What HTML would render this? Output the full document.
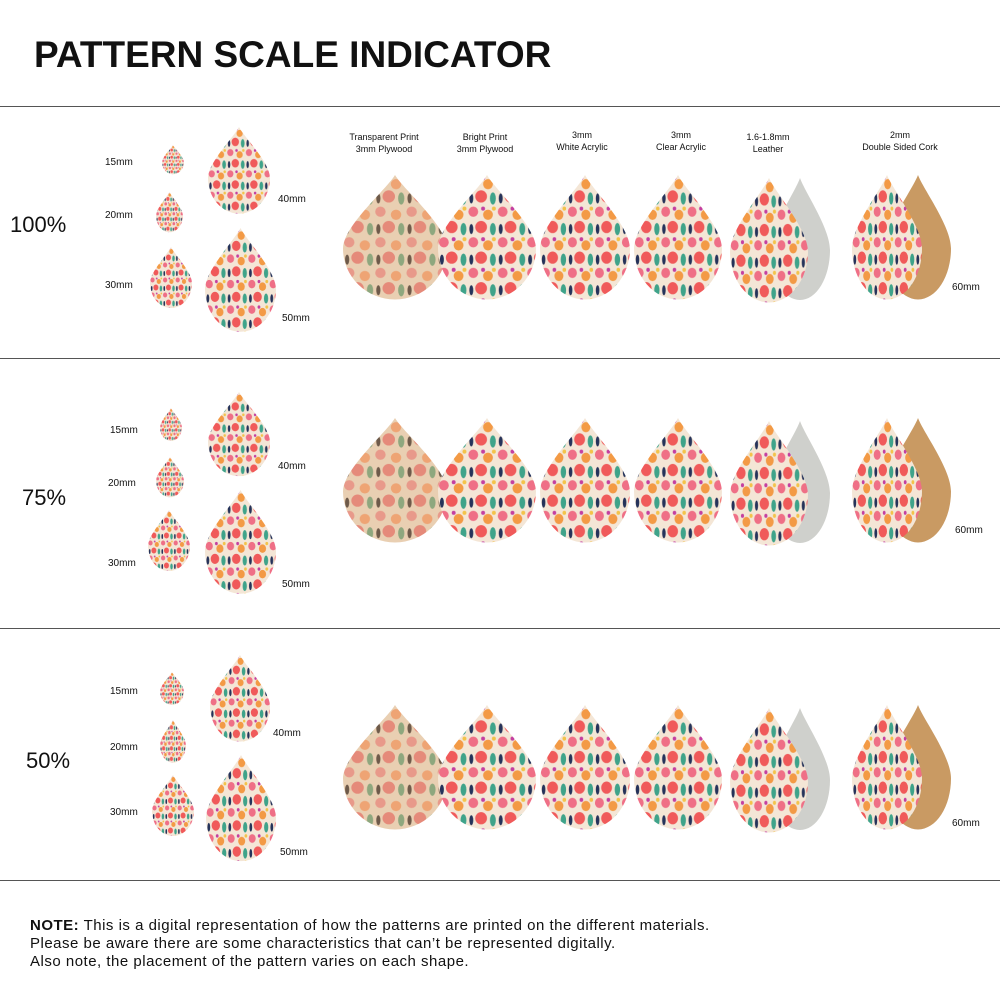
<!DOCTYPE html>
<html><head><meta charset="utf-8"><style>
html,body{margin:0;padding:0;background:#fff;width:1000px;height:1000px;overflow:hidden}
svg{display:block}
text{font-family:"Liberation Sans",sans-serif;fill:#111}
</style></head><body>
<svg width="1000" height="1000" viewBox="0 0 1000 1000">
<defs>
<pattern id="fl" width="30" height="30" patternUnits="userSpaceOnUse">
<rect width="30" height="30" fill="#f4e6d6"/>
<circle cx="6" cy="6" r="5" fill="#ef6f86"/>
<circle cx="21" cy="9" r="5" fill="#f39a45"/>
<circle cx="14" cy="21" r="6" fill="#f05a5a"/>
<ellipse cx="26" cy="23" rx="3" ry="6" fill="#3fa38a"/>
<ellipse cx="4" cy="23" rx="2" ry="5" fill="#26335a"/>
<circle cx="16" cy="3" r="2" fill="#c43fa0"/>
<circle cx="27" cy="3" r="2" fill="#f3c34a"/>
</pattern>
<pattern id="fl2" width="30" height="30" patternUnits="userSpaceOnUse">
<rect width="30" height="30" fill="#e9cfb2"/>
<circle cx="6" cy="6" r="5" fill="#e8998a"/>
<circle cx="21" cy="9" r="5" fill="#eea474"/>
<circle cx="14" cy="21" r="6" fill="#e58a7a"/>
<ellipse cx="26" cy="23" rx="3" ry="6" fill="#8ea77e"/>
<ellipse cx="4" cy="23" rx="2" ry="5" fill="#6e5a4a"/>
</pattern>
<path id="td" d="M50 0 C58 14 100 50 100 72 A50 50 0 0 1 0 72 C0 50 42 14 50 0Z"/>
</defs>
<text x="34" y="67" font-size="37" font-weight="bold">PATTERN SCALE INDICATOR</text>
<g stroke="#555" stroke-width="1"><line x1="0" y1="106.5" x2="1000" y2="106.5"/><line x1="0" y1="358.5" x2="1000" y2="358.5"/><line x1="0" y1="628.5" x2="1000" y2="628.5"/><line x1="0" y1="880.5" x2="1000" y2="880.5"/></g>
<g font-size="9" text-anchor="middle">
<text x="384" y="140">Transparent Print</text><text x="384" y="152">3mm Plywood</text>
<text x="485" y="140">Bright Print</text><text x="485" y="152">3mm Plywood</text>
<text x="582" y="138">3mm</text><text x="582" y="150">White Acrylic</text>
<text x="681" y="138">3mm</text><text x="681" y="150">Clear Acrylic</text>
<text x="768" y="140">1.6-1.8mm</text><text x="768" y="152">Leather</text>
<text x="900" y="138">2mm</text><text x="900" y="150">Double Sided Cork</text>
</g>
<g font-size="22"><text x="10" y="232">100%</text><text x="22" y="505">75%</text><text x="26" y="768">50%</text></g>
<g font-size="10">
<text x="105" y="165">15mm</text><text x="105" y="218">20mm</text><text x="105" y="288">30mm</text><text x="278" y="202">40mm</text><text x="282" y="321">50mm</text><text x="952" y="290">60mm</text>
<text x="110" y="433">15mm</text><text x="108" y="486">20mm</text><text x="108" y="566">30mm</text><text x="278" y="469">40mm</text><text x="282" y="587">50mm</text><text x="955" y="533">60mm</text>
<text x="110" y="694">15mm</text><text x="110" y="750">20mm</text><text x="110" y="815">30mm</text><text x="273" y="736">40mm</text><text x="280" y="855">50mm</text><text x="952" y="826">60mm</text>
</g>
<!-- small drops row 1 -->
<use href="#td" fill="url(#fl)" transform="translate(162,145) scale(0.22,0.24)"/>
<use href="#td" fill="url(#fl)" transform="translate(156,192) scale(0.27,0.33)"/>
<use href="#td" fill="url(#fl)" transform="translate(150,247) scale(0.42,0.5)"/>
<use href="#td" fill="url(#fl)" transform="translate(208,127) scale(0.62,0.71)"/>
<use href="#td" fill="url(#fl)" transform="translate(205,228) scale(0.71,0.85)"/>
<!-- row 2 -->
<use href="#td" fill="url(#fl)" transform="translate(160,408) scale(0.22,0.27)"/>
<use href="#td" fill="url(#fl)" transform="translate(156,457) scale(0.28,0.33)"/>
<use href="#td" fill="url(#fl)" transform="translate(148,510) scale(0.42,0.5)"/>
<use href="#td" fill="url(#fl)" transform="translate(208,392) scale(0.62,0.69)"/>
<use href="#td" fill="url(#fl)" transform="translate(205,490) scale(0.71,0.85)"/>
<!-- row 3 -->
<use href="#td" fill="url(#fl)" transform="translate(160,672) scale(0.24,0.27)"/>
<use href="#td" fill="url(#fl)" transform="translate(160,720) scale(0.26,0.35)"/>
<use href="#td" fill="url(#fl)" transform="translate(152,775) scale(0.42,0.5)"/>
<use href="#td" fill="url(#fl)" transform="translate(210,655) scale(0.6,0.71)"/>
<use href="#td" fill="url(#fl)" transform="translate(206,755) scale(0.7,0.87)"/>
<g id="r1">
<use href="#td" fill="url(#fl2)" transform="translate(343,175) scale(1.04,1.02)"/>
<use href="#td" fill="url(#fl)" transform="translate(438,175) scale(0.98,1.02)"/>
<use href="#td" fill="url(#fl)" transform="translate(540,175) scale(0.9,1.02)"/>
<use href="#td" fill="url(#fl)" transform="translate(634,175) scale(0.88,1.02)"/>
<use href="#td" fill="#cfd0cc" transform="translate(770,178) scale(0.6,1.0)"/>
<use href="#td" fill="url(#fl)" transform="translate(730,178) scale(0.78,1.02)"/>
<use href="#td" fill="#c99a63" transform="translate(885,175) scale(0.66,1.02)"/>
<use href="#td" fill="url(#fl)" transform="translate(852,175) scale(0.7,1.02)"/>
</g>
<use href="#r1" transform="translate(0,243)"/>
<use href="#r1" transform="translate(0,530)"/>
<g font-size="15" letter-spacing="0.5">
<text x="30" y="930"><tspan font-weight="bold">NOTE:</tspan> This is a digital representation of how the patterns are printed on the different materials.</text>
<text x="30" y="948">Please be aware there are some characteristics that can’t be represented digitally.</text>
<text x="30" y="966">Also note, the placement of the pattern varies on each shape.</text>
</g>
</svg>
</body></html>
